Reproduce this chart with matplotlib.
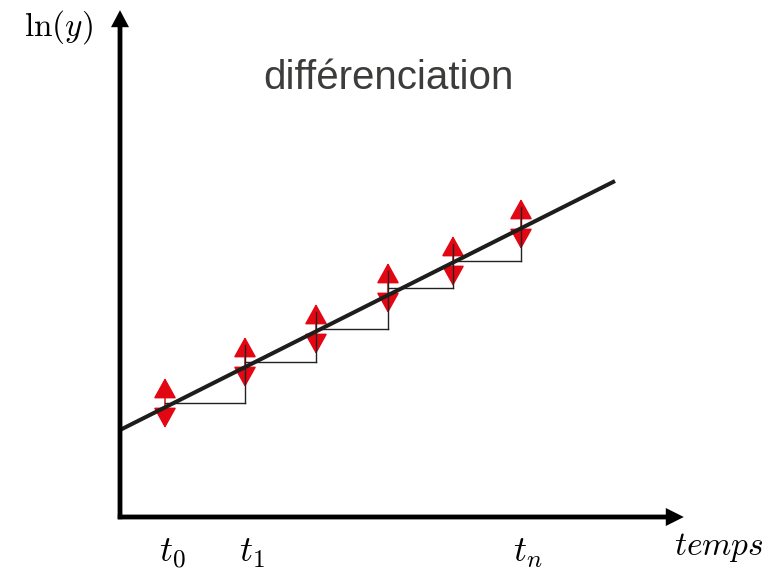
import matplotlib
matplotlib.use("Agg")
import matplotlib.pyplot as plt

plt.rcParams['mathtext.fontset'] = 'cm'

# data (time units / ln(y) units, origin at the axes corner)
t = [45, 125, 196, 268, 333, 401]
lny = [114, 155, 188, 229, 256, 293]
fit_t = [0, 495]
fit_lny = [87, 336]
tick_t = [45, 125, 401]
tick_labels = ['$t_0$', '$t_1$', '$t_n$']
err = 25  # half height of the red arrows

red = '#e30613'
dark = '#1d1d1b'

fig = plt.figure(figsize=(7.69, 5.77), dpi=100)
ax = fig.add_axes([0, 0, 1, 1])
ax.set_xlim(-120, 649)
ax.set_ylim(-60, 517)
ax.axis('off')

# axes arrows (1 data unit = 1 pixel)
ax.arrow(0, -2.2, 0, 509, width=4.8, head_width=18, head_length=17,
         length_includes_head=True, color='black', lw=0, zorder=5)
ax.arrow(-2.2, 0, 566, 0, width=4.8, head_width=18, head_length=18,
         length_includes_head=True, color='black', lw=0, zorder=5)

# fitted line
ax.plot(fit_t, fit_lny, color=dark, lw=2.9, solid_capstyle='butt', zorder=4)

# red double arrows (uncertainty)
for ti, yi in zip(t, lny):
    ax.annotate('', xy=(ti, yi + err), xytext=(ti, yi - err),
                arrowprops=dict(arrowstyle='<|-|>,head_length=1.3,head_width=0.72',
                                color=red, lw=1.1, shrinkA=0, shrinkB=0,
                                mutation_scale=10), zorder=2)

# steps between successive measures
for i in range(len(t) - 1):
    ax.plot([t[i], t[i + 1]], [lny[i], lny[i]], color='#222222', lw=1.0, zorder=3)
    ax.plot([t[i + 1], t[i + 1]], [lny[i], lny[i + 1] + 17], color='#222222',
            lw=1.0, zorder=3)

# labels
for ti, lab in zip(tick_t, tick_labels):
    ax.text(ti + 7, -45, lab, fontsize=26, ha='center', va='baseline')
ax.text(599, -38, '$temps$', fontsize=24, ha='center', va='baseline')
ax.text(-62, 481, r'$\ln(y)$', fontsize=24, ha='center', va='baseline')
ax.text(268, 439, 'différenciation', fontsize=29, family='Liberation Sans',
        color='#3c3c3b', ha='center', va='center')

fig.savefig('out.png', dpi=100)
